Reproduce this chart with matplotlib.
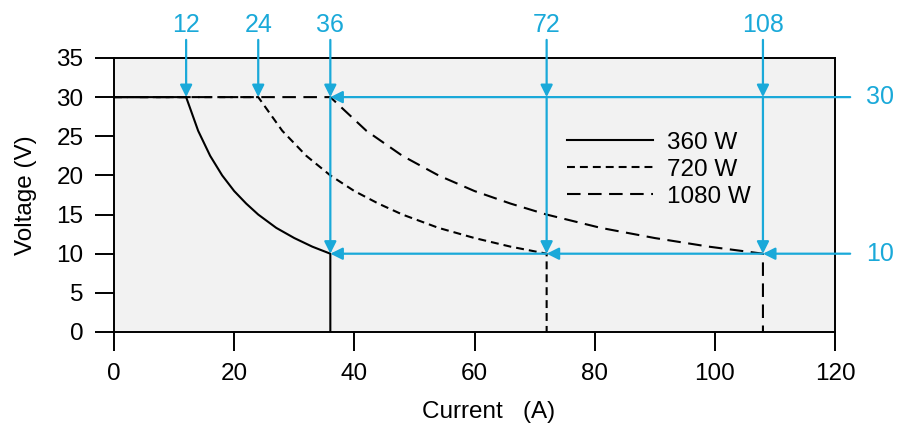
import numpy as np
import matplotlib.pyplot as plt

plt.rcParams['font.family'] = ['Liberation Sans', 'DejaVu Sans']

CYAN = '#1AA9D9'

# values (current A, voltage V)
i_360 = [0, 12, 14, 16, 18, 20, 22, 24, 27, 30, 33, 36, 36]
v_360 = [30, 30, 25.7, 22.5, 20, 18, 16.4, 15, 13.3, 12, 10.9, 10, 0]

i_720 = [0, 24, 28, 32, 36, 40, 44, 48, 54, 60, 66, 72, 72]
v_720 = [30, 30, 25.7, 22.5, 20, 18, 16.4, 15, 13.3, 12, 10.9, 10, 0]

i_1080 = [0, 36, 42, 48, 54, 60, 66, 72, 81, 90, 99, 108, 108]
v_1080 = [30, 30, 25.7, 22.5, 20, 18, 16.4, 15, 13.3, 12, 10.9, 10, 0]

knee_currents = [12, 24, 36, 72, 108]
knee_labels = ['12', '24', '36', '72', '108']
v_levels = [30, 10]
v_labels = ['30', '10']

fig = plt.figure(figsize=(9.05, 4.32), dpi=100)
ax = fig.add_axes([0.126, 0.2315, 0.7967, 0.6343])
ax.set_facecolor('#f2f2f2')

ax.plot(i_360, v_360, color='black', lw=1.5, label='360 W')
ax.plot(i_720, v_720, color='black', lw=1.5, dashes=(3.8, 2.4), label='720 W')
ax.plot(i_1080, v_1080, color='black', lw=1.5, dashes=(6.5, 3.6), label='1080 W')

ax.set_xlim(0, 120)
ax.set_ylim(0, 35)
ax.set_xticks(np.arange(0, 121, 20))
ax.set_yticks(np.arange(0, 36, 5))
ax.tick_params(direction='out', length=13.5, width=1.4, labelsize=17.5, pad=8.5)
for s in ax.spines.values():
    s.set_linewidth(1.4)

ax.set_xlabel('Current   (A)', fontsize=17.5, labelpad=12, x=0.52)
ax.set_ylabel('Voltage (V)', fontsize=17.5, labelpad=14)

arrow = dict(arrowstyle='-|>', color=CYAN, lw=1.6, mutation_scale=18,
             shrinkA=0, shrinkB=0)

# top labels and down arrows
for x, lab in zip(knee_currents, knee_labels):
    ax.text(x, 1.12, lab, color=CYAN, fontsize=18, ha='center', va='center',
            transform=ax.get_xaxis_transform())
    ax.annotate('', xy=(x, 30), xycoords='data',
                xytext=(x, 1.066), textcoords=ax.get_xaxis_transform(),
                arrowprops=arrow, annotation_clip=False)
    if x >= 36:
        ax.annotate('', xy=(x, 10), xytext=(x, 30), arrowprops=arrow)

# right labels and left arrows
for y, lab in zip(v_levels, v_labels):
    ax.text(1.062, y, lab, color=CYAN, fontsize=18, ha='center', va='center',
            transform=ax.get_yaxis_transform())

ax.annotate('', xy=(36, 30), xycoords='data',
            xytext=(1.021, 30), textcoords=ax.get_yaxis_transform(),
            arrowprops=arrow, annotation_clip=False)
ax.annotate('', xy=(108, 10), xycoords='data',
            xytext=(1.021, 10), textcoords=ax.get_yaxis_transform(),
            arrowprops=arrow, annotation_clip=False)
ax.annotate('', xy=(72, 10), xytext=(108, 10), arrowprops=arrow)
ax.annotate('', xy=(36, 10), xytext=(72, 10), arrowprops=arrow)

ax.legend(loc='upper left', bbox_to_anchor=(0.612, 0.775), frameon=False,
          fontsize=17.5, handlelength=3.5, handletextpad=0.6, labelspacing=0.2,
          borderpad=0)

plt.savefig('out.png', dpi=100)
